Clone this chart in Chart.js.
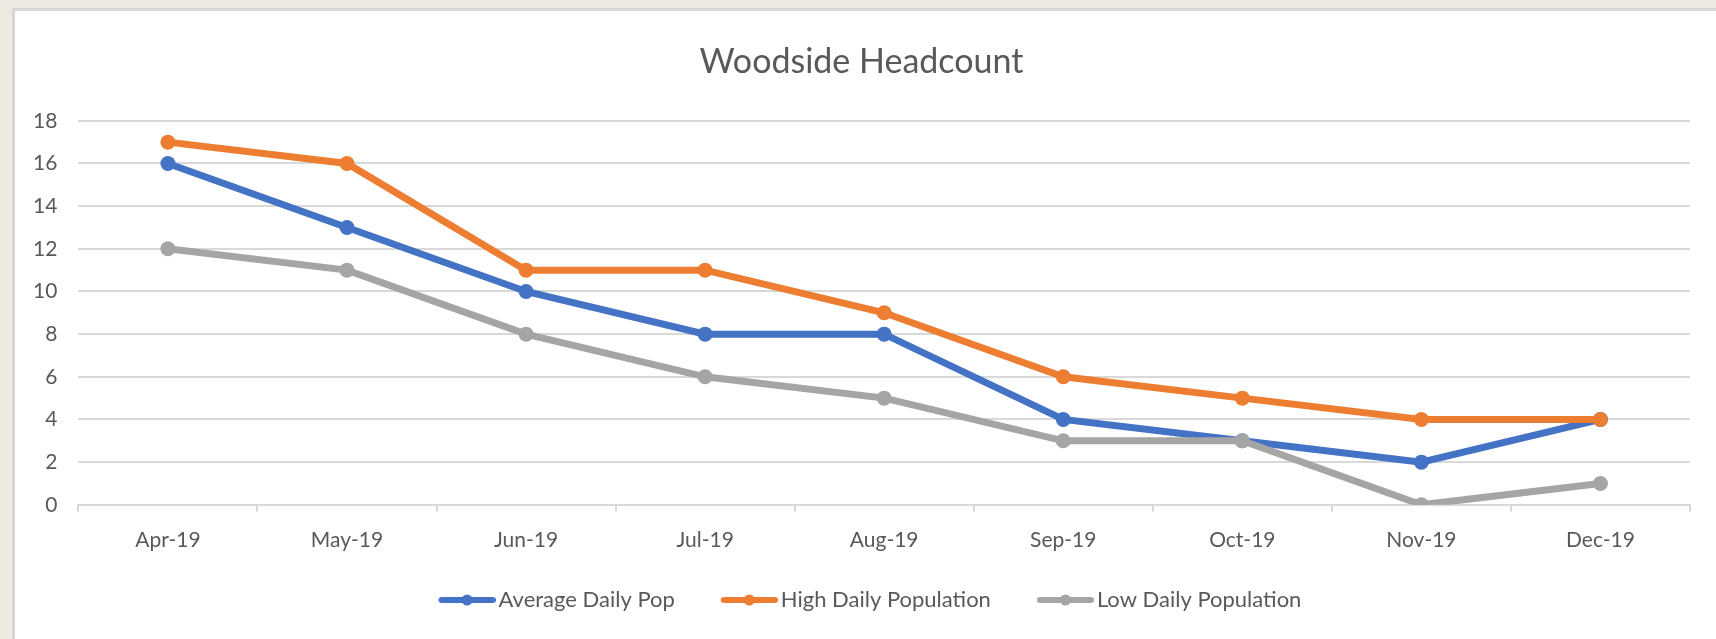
<!DOCTYPE html>
<html>
<head>
<meta charset="utf-8">
<script src="https://cdn.jsdelivr.net/npm/chart.js@4.4.0/dist/chart.umd.min.js"></script>
<style>
  html, body { margin: 0; padding: 0; background: #EEEAE2; width: 1716px; height: 639px; overflow: hidden; }
  #panel { position: absolute; left: 12px; top: 8px; width: 1704px; height: 631px; background: #D6D6D6; }
  #inner { position: absolute; left: 3px; top: 3px; width: 1701px; height: 628px; background: #FFFFFF; }
</style>
</head>
<body>
<div id="panel"><div id="inner"><canvas id="c"></canvas></div></div>
<script>
const categories = ['Apr-19', 'May-19', 'Jun-19', 'Jul-19', 'Aug-19', 'Sep-19', 'Oct-19', 'Nov-19', 'Dec-19'];
const averageDailyPop = [16, 13, 10, 8, 8, 4, 3, 2, 4];
const highDailyPopulation = [17, 16, 11, 11, 9, 6, 5, 4, 4];
const lowDailyPopulation = [12, 11, 8, 6, 5, 3, 3, 0, 1];
const seriesNames = ['Average Daily Pop', 'High Daily Population', 'Low Daily Population'];
const seriesColors = ['#4472C4', '#ED7D31', '#A5A5A5'];
const yTicks = [0, 2, 4, 6, 8, 10, 12, 14, 16, 18];

const FONT = 'Lato, "Open Sans", sans-serif';
const TEXT = '#595959';

function legendImage(color) {
  const c = document.createElement('canvas');
  c.width = 82; c.height = 16;
  const g = c.getContext('2d');
  g.strokeStyle = color; g.lineWidth = 6; g.lineCap = 'round';
  g.beginPath(); g.moveTo(28, 8); g.lineTo(79, 8); g.stroke();
  g.fillStyle = color;
  g.beginPath(); g.arc(53.5, 8, 5.5, 0, Math.PI * 2); g.fill();
  return c;
}
const legendImages = seriesColors.map(legendImage);

const values = [averageDailyPop, highDailyPopulation, lowDailyPopulation];
const datasets = values.map((v, i) => ({
  label: seriesNames[i],
  data: v,
  borderColor: seriesColors[i],
  backgroundColor: seriesColors[i],
  pointBackgroundColor: seriesColors[i],
  pointBorderColor: seriesColors[i],
  borderWidth: 7,
  pointRadius: 7.5,
  pointBorderWidth: 0,
  tension: 0,
  order: 3 - i
}));

new Chart(document.getElementById('c'), {
  type: 'line',
  data: { labels: categories, datasets },
  options: {
    responsive: true,
    maintainAspectRatio: false,
    animation: false,
    layout: { padding: { left: 18, right: 26, top: 0, bottom: 18 } },
    plugins: {
      tooltip: { enabled: false },
      title: {
        display: true,
        text: 'Woodside Headcount',
        color: TEXT,
        font: { family: FONT, size: 34, weight: 'normal' },
        padding: { top: 31, bottom: 38 }
      },
      legend: {
        position: 'bottom',
        labels: {
          usePointStyle: true,
          pointStyleWidth: 66,
          padding: 29,
          color: TEXT,
          font: { family: FONT, size: 22 },
          generateLabels: (chart) => chart.data.datasets.map((ds, i) => ({
            text: ds.label,
            fillStyle: ds.borderColor,
            strokeStyle: ds.borderColor,
            fontColor: TEXT,
            lineWidth: 0,
            pointStyle: legendImages[i],
            hidden: false,
            datasetIndex: i
          }))
        }
      }
    },
    scales: {
      x: {
        offset: true,
        grid: { offset: true, drawOnChartArea: false, drawTicks: true, tickLength: 7, color: '#D9D9D9', lineWidth: 2 },
        border: { display: true, color: '#D9D9D9', width: 2 },
        ticks: { color: TEXT, font: { family: FONT, size: 21 }, padding: 15.5, maxRotation: 0 },
        afterFit: (s) => { s.height -= 8; s.paddingLeft = 0; s.paddingRight = 0; }
      },
      y: {
        min: 0, max: 18,
        afterBuildTicks: (s) => { s.ticks = yTicks.map(v => ({ value: v })); },
        grid: { color: '#D9D9D9', lineWidth: 2, drawTicks: false },
        border: { display: false },
        ticks: { color: TEXT, font: { family: FONT, size: 21 }, padding: 21 },
        afterFit: (s) => { s.width -= 21; }
      }
    }
  }
});
</script>
</body>
</html>
